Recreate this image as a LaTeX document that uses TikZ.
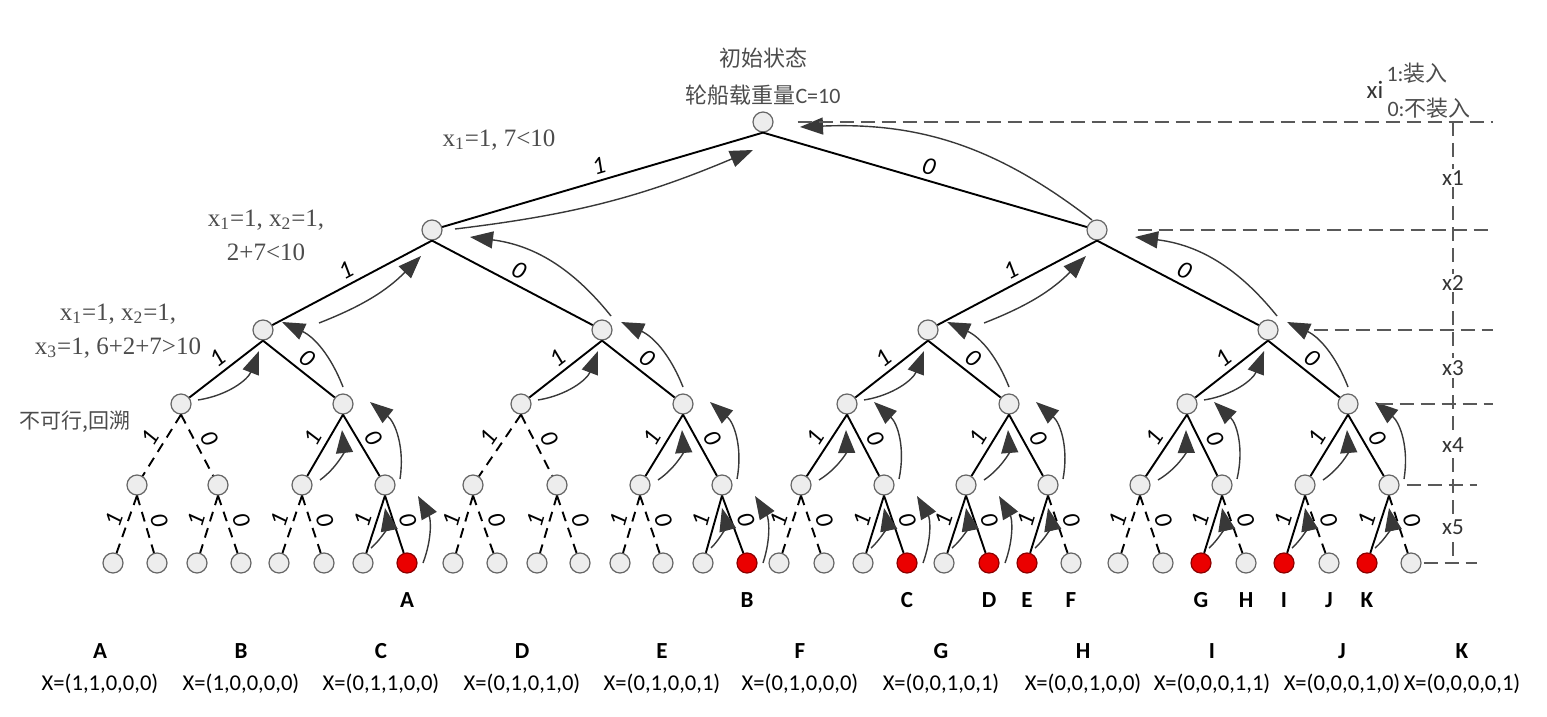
\documentclass[tikz,border=0pt]{standalone}
\usepackage{fontspec}
\setmainfont{Carlito}
\newfontfamily\cjk{Noto Sans CJK SC}
\newfontfamily\timesfont{Liberation Serif}
\usetikzlibrary{arrows.meta}

\begin{document}
\begin{tikzpicture}[x=0.5pt, y=-0.5pt, font=\fontsize{11.5}{13}\selectfont]
  \tikzstyle{state} = [circle, draw=black!60, line width=0.6pt, fill=black!7, minimum size=10pt, inner sep=0pt]
  \tikzstyle{goal} = [state, draw=red!55!black, fill=red!92!black]
  \tikzstyle{tree} = [line width=0.95pt]
  \tikzstyle{cut} = [tree, dash pattern=on 5pt off 3.5pt]
  \tikzstyle{bit} = [sloped, above=1.5pt, inner sep=1pt, font=\fontsize{12.5}{12}\selectfont\itshape]
  \tikzstyle{back} = [black!78, line width=0.7pt, -{Triangle[length=11.5pt,width=8.5pt]}]
  \tikzstyle{guide} = [black!65, line width=0.8pt, dash pattern=on 7pt off 3.5pt]
  \tikzstyle{cond} = [text=black!70, align=center, font=\timesfont\fontsize{12.5}{17}\selectfont]
  \tikzstyle{cn} = [text=black!70, font=\cjk\fontsize{11}{13}\selectfont]
  \tikzstyle{tag} = [font=\fontsize{11.5}{13}\selectfont\bfseries]

  \useasboundingbox (0,0) rectangle (1547,717);

  % search tree, named by the path of bits
  \node[state] (r) at (763,122) {};
  \node[state] (r1) at (432,230) {};
  \node[state] (r0) at (1097,230) {};
  \foreach \n/\x in {r11/263, r10/602, r01/928, r00/1268}
    \node[state] (\n) at (\x,330) {};
  \foreach \n/\x in {r111/181, r110/343, r101/521, r100/683, r011/847, r010/1009, r001/1187, r000/1348}
    \node[state] (\n) at (\x,404) {};
  \foreach \n/\x in {r1111/137, r1110/218, r1101/302, r1100/385, r1011/473, r1010/557, r1001/640, r1000/722,
      r0111/801, r0110/884, r0101/966, r0100/1048, r0011/1140, r0010/1222, r0001/1305, r0000/1389}
    \node[state] (\n) at (\x,485) {};
  \foreach \n/\x in {r11111/113, r11110/157, r11101/197, r11100/241, r11011/279, r11010/324, r11001/363,
      r10111/453, r10110/497, r10101/537, r10100/580, r10011/620, r10010/663, r10001/703,
      r01111/779, r01110/824, r01101/863, r01011/944, r01000/1071,
      r00111/1118, r00110/1163, r00100/1246, r00010/1329, r00000/1411}
    \node[state] (\n) at (\x,563) {};
  \foreach \n/\x in {r11000/407, r10000/747, r01100/907, r01010/989, r01001/1027, r00101/1201, r00011/1284, r00001/1367}
    \node[goal] (\n) at (\x,563) {};

  % edges
  \foreach \p/\c in {r/r1, r1/r11, r0/r01, r11/r111, r10/r101, r01/r011, r00/r001,
      r110/r1101, r100/r1001, r011/r0111, r010/r0101, r001/r0011, r000/r0001,
      r1100/r11001, r1000/r10001, r0110/r01101, r0101/r01011, r0100/r01001,
      r0010/r00101, r0001/r00011, r0000/r00001}
    \draw[tree] (\p.south) -- node[bit] {1} (\c);
  \foreach \p/\c in {r/r0, r1/r10, r0/r00, r11/r110, r10/r100, r01/r010, r00/r000,
      r110/r1100, r100/r1000, r011/r0110, r010/r0100, r001/r0010, r000/r0000,
      r1100/r11000, r1000/r10000, r0110/r01100, r0101/r01010}
    \draw[tree] (\p.south) -- node[bit] {0} (\c);
  \foreach \p/\c in {r111/r1111, r101/r1011, r1111/r11111, r1110/r11101, r1101/r11011,
      r1011/r10111, r1010/r10101, r1001/r10011, r0111/r01111, r0011/r00111}
    \draw[cut] (\p.south) -- node[bit] {1} (\c);
  \foreach \p/\c in {r111/r1110, r101/r1010, r1111/r11110, r1110/r11100, r1101/r11010,
      r1011/r10110, r1010/r10100, r1001/r10010, r0111/r01110, r0011/r00110,
      r0100/r01000, r0010/r00100, r0001/r00010, r0000/r00000}
    \draw[cut] (\p.south) -- node[bit] {0} (\c);

  % backtracking arrows
  \draw[back] ([shift={(23,-1)}]r1.center) to[bend right=8] ([shift={(-10,28)}]r.center);
  \draw[back] ([shift={(-5,-10)}]r0.center) to[bend right=20] ([shift={(37,5)}]r.center);
  \foreach \c/\p in {r11/r1, r01/r0}
    \draw[back] ([shift={(56,-7)}]\c.center) to[bend right=12] ([shift={(-11,26)}]\p.center);
  \foreach \c/\p in {r10/r1, r00/r0}
    \draw[back] ([shift={(9,-14)}]\c.center) to[bend right=22] ([shift={(38,7)}]\p.center);
  \foreach \c/\p in {r111/r11, r101/r10, r011/r01, r001/r00}
    \draw[back] ([shift={(17,-4)}]\c.center) to[bend right=30] ([shift={(-4,21)}]\p.center);
  \foreach \c/\p in {r110/r11, r100/r10, r010/r01, r000/r00}
    \draw[back] ([shift={(0,-17)}]\c.center) to[bend right=22] ([shift={(19,-8)}]\p.center);
  \foreach \c/\p in {r1101/r110, r1001/r100, r0111/r011, r0101/r010, r0011/r001, r0001/r000}
    \draw[back] ([shift={(18,-5)}]\c.center) to[bend right=30] ([shift={(-1,26)}]\p.center);
  \foreach \c/\p in {r1100/r110, r1000/r100, r0110/r011, r0100/r010, r0010/r001, r0000/r000}
    \draw[back] ([shift={(15,-6)}]\c.center) to[bend right=30] ([shift={(27,-2)}]\p.center);
  \foreach \c/\p in {r11001/r1100, r10001/r1000, r01101/r0110, r01011/r0101,
      r01001/r0100, r00101/r0010, r00011/r0001, r00001/r0000}
    \draw[back] ([shift={(8,-15)}]\c.center) to[bend right=30] ([shift={(0,23)}]\p.center);
  \foreach \c/\p in {r11000/r1100, r10000/r1000, r01100/r0110, r01010/r0101}
    \draw[back] ([shift={(16,0)}]\c.center) to[bend right=25] ([shift={(33,11)}]\p.center);

  % level guides
  \coordinate (gR) at (1493,0);
  \coordinate (gS) at (1477,0);
  \coordinate (gx) at (1453,0);
  \draw[guide] ([xshift=12pt]r.east) -- (r -| gR);
  \draw[guide] ([xshift=15pt]r0.east) -- (r0 -| gR);
  \draw[guide] ([xshift=17.5pt]r00.east) -- (r00 -| gR);
  \draw[guide] ([xshift=10pt]r000.east) -- (r000 -| gR);
  \draw[guide] ([xshift=3.5pt]r0000.east) -- (r0000 -| gS);
  \draw[guide] ([xshift=1pt]r00000.east) -- (r00000 -| gS);
  \draw[guide] (r -| gx) -- (r00000 -| gx);
  \foreach \t/\y in {x1/178, x2/283, x3/368, x4/445, x5/527}
    \node[fill=white, inner sep=1pt, text=black!80] (\t) at (1453,\y) {\t};

  % legend and notes
  \node[text=black!80, font=\fontsize{12.5}{13}\selectfont] (xi) at (1375,90) {xi};
  \node[cn] (in1) at (1417,73) {{\rmfamily 1:}装入};
  \node[cn] (in0) at (1429,108) {{\rmfamily 0:}不装入};
  \node[cn] (start) at (763,58) {初始状态};
  \node[cn] (cap) at (763,95) {轮船载重量{\rmfamily C=10}};
  \node[cond] (c1) at (499,140) {x\textsubscript{1}=1, 7<10};
  \node[cond] (c2) at (266,235) {x\textsubscript{1}=1, x\textsubscript{2}=1,\\2+7<10};
  \node[cond] (c3) at (118,331) {x\textsubscript{1}=1, x\textsubscript{2}=1,\\x\textsubscript{3}=1, 6+2+7>10};
  \node[cn, font=\cjk\fontsize{10.5}{13}\selectfont] (fail) at (75,422) {不可行,回溯};

  % solutions
  \foreach \n/\t in {r11000/A, r10000/B, r01100/C, r01010/D, r01001/E, r01000/F,
      r00101/G, r00100/H, r00011/I, r00010/J, r00001/K}
    \node[tag] (l\t) at ([yshift=-18.5pt]\n.center) {\t};
  \foreach \t/\x/\v in {A/100/{(1,1,0,0,0)}, B/241/{(1,0,0,0,0)}, C/381/{(0,1,1,0,0)},
      D/522/{(0,1,0,1,0)}, E/662/{(0,1,0,0,1)}, F/800/{(0,1,0,0,0)}, G/941/{(0,0,1,0,1)},
      H/1083/{(0,0,1,0,0)}, I/1212/{(0,0,0,1,1)}, J/1342/{(0,0,0,1,0)}, K/1462/{(0,0,0,0,1)}}
  {
    \node[tag] (s\t) at (\x,651) {\t};
    \node[font=\fontsize{11.3}{13}\selectfont] (v\t) at (\x,684) {X=\v};
  }
\end{tikzpicture}
\end{document}
